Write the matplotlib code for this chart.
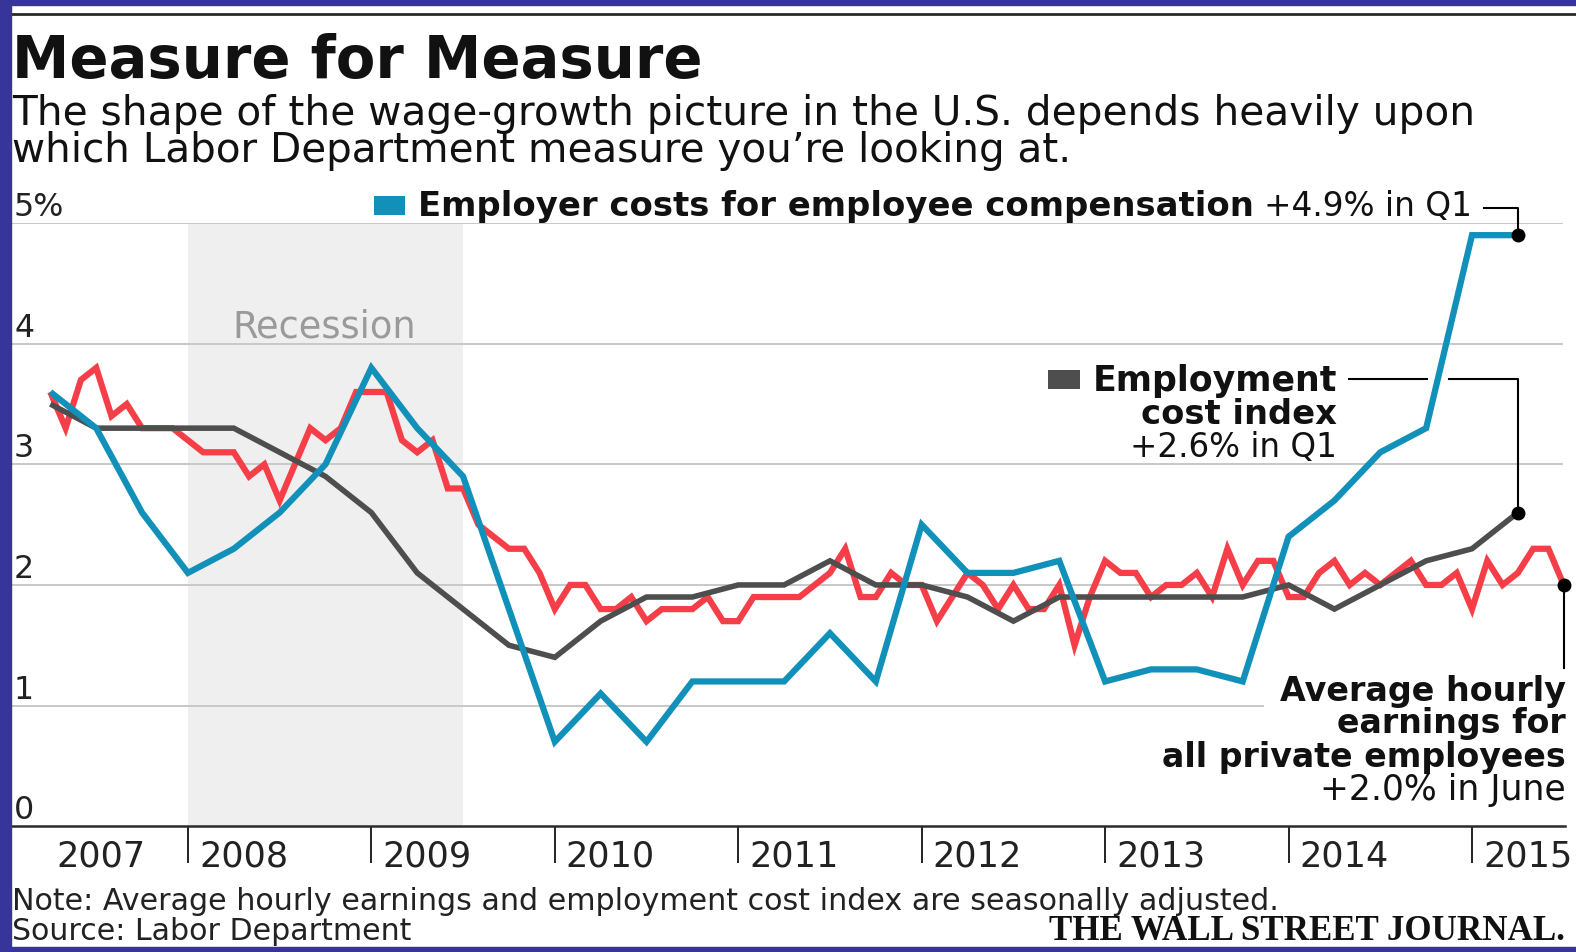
import matplotlib
matplotlib.use('Agg')
import matplotlib.pyplot as plt
from matplotlib.patches import Rectangle
from matplotlib.lines import Line2D
from matplotlib.transforms import offset_copy
import numpy as np
import pandas as pd

# ---------------- data ----------------
year_labels = ['2007', '2008', '2009', '2010', '2011', '2012', '2013', '2014', '2015']
year_ticks = [2008, 2009, 2010, 2011, 2012, 2013, 2014, 2015]
y_ticks = [0, 1, 2, 3, 4, 5]
y_tick_labels = ['0', '1', '2', '3', '4', '5%']

quarters = pd.period_range('2007Q1', '2015Q1', freq='Q')
months = pd.period_range('2007-03', '2015-06', freq='M')

# Employer costs for employee compensation, % change y/y (quarterly)
employer_costs = [3.6, 3.3, 2.6, 2.1,
                  2.3, 2.6, 3.0, 3.8,
                  3.3, 2.9, 1.8, 0.7,
                  1.1, 0.7, 1.2, 1.2,
                  1.2, 1.6, 1.2, 2.5,
                  2.1, 2.1, 2.2, 1.2,
                  1.3, 1.3, 1.2, 2.4,
                  2.7, 3.1, 3.3, 4.9,
                  4.9]

# Employment cost index, % change y/y (quarterly)
eci = [3.5, 3.3, 3.3, 3.3,
       3.3, 3.1, 2.9, 2.6,
       2.1, 1.8, 1.5, 1.4,
       1.7, 1.9, 1.9, 2.0,
       2.0, 2.2, 2.0, 2.0,
       1.9, 1.7, 1.9, 1.9,
       1.9, 1.9, 1.9, 2.0,
       1.8, 2.0, 2.2, 2.3,
       2.6]

# Average hourly earnings, all private employees, % change y/y (monthly, Mar 2007 - Jun 2015)
ahe = [3.6, 3.3, 3.7, 3.8, 3.4, 3.5, 3.3, 3.3, 3.3, 3.2,
       3.1, 3.1, 3.1, 2.9, 3.0, 2.7, 3.0, 3.3, 3.2, 3.3, 3.6, 3.6,
       3.6, 3.2, 3.1, 3.2, 2.8, 2.8, 2.5, 2.4, 2.3, 2.3, 2.1, 1.8,
       2.0, 2.0, 1.8, 1.8, 1.9, 1.7, 1.8, 1.8, 1.8, 1.9, 1.7, 1.7,
       1.9, 1.9, 1.9, 1.9, 2.0, 2.1, 2.3, 1.9, 1.9, 2.1, 2.0, 2.0,
       1.7, 1.9, 2.1, 2.0, 1.8, 2.0, 1.8, 1.8, 2.0, 1.5, 1.9, 2.2,
       2.1, 2.1, 1.9, 2.0, 2.0, 2.1, 1.9, 2.3, 2.0, 2.2, 2.2, 1.9,
       1.9, 2.1, 2.2, 2.0, 2.1, 2.0, 2.1, 2.2, 2.0, 2.0, 2.1, 1.8,
       2.2, 2.0, 2.1, 2.3, 2.3, 2.0]

recession = (pd.Period('2007-12', 'M'), pd.Period('2009-06', 'M'))

qx = np.array([p.year + p.quarter * 3 / 12 for p in quarters])
mx = np.array([p.year + p.month / 12 for p in months])
rec_x = [p.year + p.month / 12 for p in recession]

# ---------------- styling ----------------
BLUE = '#1190ba'
RED = '#f63e48'
GRAY = '#4e4e4e'
INK = '#111111'
FRAME = '#37349a'

W, H = 1576, 952
fig = plt.figure(figsize=(W / 100, H / 100), dpi=100)
fig.patch.set_facecolor('white')
R = fig.canvas.get_renderer()


def ftext(x, y, s, width, ha='left', weight='normal', family='DejaVu Sans', color=INK, **kw):
    t = fig.text(x / W, 1 - y / H, s, fontsize=20, ha=ha, va='baseline',
                 fontweight=weight, family=family, color=color, **kw)
    w = t.get_window_extent(renderer=R).width
    t.set_fontsize(20 * width / w)
    return t


def fig_line(xs, ys, **kw):
    fig.add_artist(Line2D([x / W for x in xs], [1 - y / H for y in ys],
                          transform=fig.transFigure, **kw))


# frame
fig.add_artist(Rectangle((0, 0), 11 / W, 1, transform=fig.transFigure, color=FRAME, zorder=10))
fig.add_artist(Rectangle((0, 1 - 5 / H), 1, 5 / H, transform=fig.transFigure, color=FRAME, zorder=10))
fig.add_artist(Rectangle((0, 0), 1, 5 / H, transform=fig.transFigure, color=FRAME, zorder=10))
fig_line([11, W], [14, 14], color='#2a2a2a', lw=2.0)

# titles
ftext(12, 78, 'Measure for Measure', 690, weight='bold')
ftext(12, 124.5, 'The shape of the wage-growth picture in the U.S. depends heavily upon', 1459)
ftext(12, 161.5, 'which Labor Department measure you\u2019re looking at.', 1061)

# axes
x_left, x_right = 12, 1565
y_top, y_bot = 223.1, 826.2
ax = fig.add_axes([x_left / W, 1 - y_bot / H, (x_right - x_left) / W, (y_bot - y_top) / H])
ax.set_xlim(2007.041, 2015.507)
ax.set_ylim(0, 5)
ax.patch.set_alpha(0)
for s in ['top', 'right', 'left']:
    ax.spines[s].set_visible(False)
ax.spines['bottom'].set_color('#2b2b2b')
ax.spines['bottom'].set_linewidth(1.8)
ax.set_yticks([])
ax.set_xticks(year_ticks)
ax.set_xticklabels([])
ax.tick_params(axis='x', direction='out', length=26.5, width=1.4, color='#222222')

# recession shading
ax.axvspan(rec_x[0], rec_x[1], ymin=0, ymax=1, color='#efefef', zorder=0, lw=0)

# gridlines
grid_end = 2015.496
grid_end_one = 2013.866
for v in y_ticks[1:]:
    ax.hlines(v, ax.get_xlim()[0], grid_end_one if v == 1 else grid_end,
              color='#c8c8c8', lw=1.4, zorder=1)

# y tick labels above gridlines
ylab_tr = offset_copy(ax.get_yaxis_transform(), fig=fig, x=2, y=7, units='dots')
tmp = ax.text(0, 5, '5%', fontsize=20, transform=ylab_tr, family='DejaVu Sans')
ysize = 20 * 50 / tmp.get_window_extent(renderer=R).width
tmp.remove()
for v, lab in zip(y_ticks, y_tick_labels):
    ax.text(0, v, lab, fontsize=ysize, transform=ylab_tr, ha='left', va='baseline',
            color='#222222', family='DejaVu Sans')

# year labels
tmp = ax.text(2008, 0, '2008', fontsize=20, family='DejaVu Sans')
xsize = 20 * 89 / tmp.get_window_extent(renderer=R).width
tmp.remove()
for i, lab in enumerate(year_labels):
    yr = int(lab)
    dx = 52 if i == 0 else 11
    tr = offset_copy(ax.get_xaxis_transform(), fig=fig, x=dx, y=-40.5, units='dots')
    ax.text(yr, 0, lab, transform=tr, fontsize=xsize, ha='left', va='baseline',
            color='#222222', family='DejaVu Sans', clip_on=False)

# recession label
ftext(324.5, 337, 'Recession', 183, ha='center', color='#9a9a9a')

# series
ax.plot(mx, ahe, color=RED, lw=4.5, zorder=3, solid_joinstyle='miter', solid_capstyle='butt')
ax.plot(qx, eci, color=GRAY, lw=4.0, zorder=4, solid_joinstyle='miter', solid_capstyle='butt')
ax.plot(qx, employer_costs, color=BLUE, lw=4.5, zorder=5, solid_joinstyle='miter', solid_capstyle='butt')

for xx, yy in [(qx[-1], employer_costs[-1]), (qx[-1], eci[-1]), (mx[-1], ahe[-1])]:
    ax.plot(xx, yy, 'o', color='black', ms=9, zorder=7, clip_on=False)


def to_px(x, y):
    dx, dy = ax.transData.transform((x, y))
    return dx, H - dy


# legend 1: employer costs
fig.add_artist(Rectangle((374 / W, 1 - 215 / H), 31 / W, 19 / H, transform=fig.transFigure,
                         color=BLUE, lw=0))
ftext(418, 216, 'Employer costs for employee compensation', 836, weight='bold')
ftext(1264, 216, '+4.9% in Q1', 208)
bx, by = to_px(qx[-1], employer_costs[-1])
fig_line([1484, bx, bx], [207.5, 207.5, by], color='black', lw=1.5, zorder=6)

# legend 2: ECI
fig.add_artist(Rectangle((1048 / W, 1 - 389 / H), 32 / W, 19 / H, transform=fig.transFigure,
                         color=GRAY, lw=0))
ftext(1093, 391, 'Employment', 244, weight='bold')
ftext(1337, 424, 'cost index', 196, ha='right', weight='bold')
ftext(1337, 457, '+2.6% in Q1', 207, ha='right')
gx, gy = to_px(qx[-1], eci[-1])
lead_y = 379
# gap where the blue line crosses the leader
lead_val = ax.transData.inverted().transform((0, H - lead_y))[1]
cross_x = np.interp(lead_val, employer_costs[-3:-1], qx[-3:-1])
cx, _ = to_px(cross_x, lead_val)
fig_line([1349, cx - 11], [lead_y, lead_y], color='black', lw=1.5)
fig_line([cx + 11, gx, gx], [lead_y, lead_y, gy], color='black', lw=1.5)

# legend 3: AHE
ftext(1566, 700.5, 'Average hourly', 287, ha='right', weight='bold')
ftext(1566, 733.5, 'earnings for', 229, ha='right', weight='bold')
ftext(1566, 767, 'all private employees', 405, ha='right', weight='bold')
ftext(1566, 800, '+2.0% in June', 246, ha='right')
rx, ry = to_px(mx[-1], ahe[-1])
fig_line([rx, rx], [ry, 668], color='black', lw=1.5)

# footer
ftext(12, 910.5, 'Note: Average hourly earnings and employment cost index are seasonally adjusted.', 1266,
      color='#222222')
ftext(12, 939.5, 'Source: Labor Department', 398, color='#222222')
ftext(1565, 939.5, 'THE WALL STREET JOURNAL.', 514, ha='right', weight='bold', family='Liberation Serif')

fig.savefig('out.png', dpi=100, facecolor='white')
